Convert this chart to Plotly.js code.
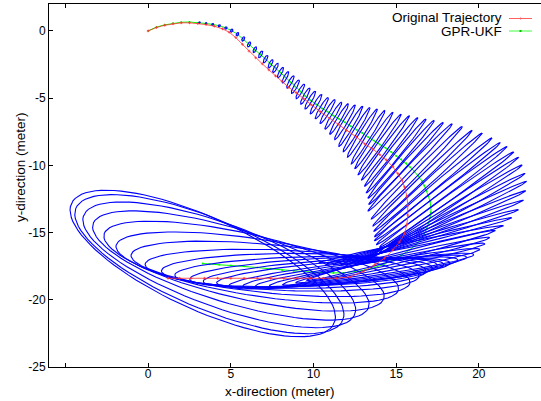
<!DOCTYPE html>
<html><head><meta charset="utf-8">
<script src="https://cdn.plot.ly/plotly-3.0.1.min.js"></script>
<style>html,body{margin:0;padding:0;background:#fff}#chart{width:541px;height:401px}</style>
</head><body><div id="chart"></div>
<script>
// Original trajectory (red)
const redX = [0,0.5,1.0,1.5,2.0,2.5,3.0,3.5,4.0,4.5,4.9,5.3,5.7,6.1,6.5,6.9,7.3,7.7,8.1,8.5,8.95,9.4,9.86,10.4,10.97,11.5,12.0,12.6,13.1,13.6,14.0,14.4,14.8,15.1,15.35,15.5,15.65,15.7,15.7,15.65,15.5,15.2,14.8,14.3,13.7,13.0,12.2,11.4,10.6,9.8,9.0,8.2,7.4,6.6,5.8,5.0,4.2,3.4,2.6,1.9,1.2];
const redY = [0,0.25,0.42,0.53,0.6,0.6,0.55,0.47,0.35,0.15,-0.1,-0.5,-1.0,-1.5,-2.0,-2.45,-2.9,-3.35,-3.75,-4.2,-4.6,-5.05,-5.5,-6.0,-6.5,-6.95,-7.4,-7.9,-8.4,-8.8,-9.2,-9.6,-10.1,-10.6,-11.1,-11.6,-12.3,-13.0,-13.7,-14.4,-15.1,-15.7,-16.3,-16.9,-17.4,-17.9,-18.3,-18.4,-18.4,-18.4,-18.4,-18.4,-18.4,-18.4,-18.4,-18.4,-18.4,-18.4,-18.4,-18.4,-18.4];
// GPR-UKF estimate (green)
const greenX = [0,0.5,1.0,1.5,2.0,2.5,
3.1,3.5,3.9,4.3,4.7,5.05,5.4,5.75,6.1,6.45,
6.8,7.1,7.4,7.7,8.0,8.3,8.6,8.9,9.2,9.5,
9.8,10.15,10.5,10.85,11.2,11.55,11.9,12.25,12.6,12.95,
13.3,13.65,14.0,14.35,14.7,15.0,15.3,15.6,15.85,16.1,
16.35,16.55,16.7,16.85,16.95,17.05,17.1,17.1,17.05,16.95,
16.85,16.7,16.5,16.2,15.8,
15.3,14.8,14.25,13.7,13.1,12.5,11.8,11.2,10.6,10.0,
9.4,8.8,8.1,7.4,6.6,5.8,5.0,4.3,3.7,3.3];
const greenY = [0,0.28,0.45,0.57,0.64,0.66,
0.62,0.55,0.48,0.38,0.22,0.02,-0.25,-0.6,-1.0,-1.4,
-1.75,-2.1,-2.45,-2.75,-3.1,-3.45,-3.8,-4.15,-4.5,-4.85,
-5.15,-5.45,-5.75,-6.0,-6.3,-6.55,-6.8,-7.1,-7.35,-7.6,
-7.9,-8.15,-8.45,-8.7,-9.0,-9.3,-9.55,-9.85,-10.15,-10.45,
-10.8,-11.15,-11.5,-11.9,-12.3,-12.7,-13.1,-13.5,-13.9,-14.3,
-14.7,-15.1,-15.5,-15.9,-16.3,
-16.7,-17.05,-17.35,-17.6,-17.8,-17.9,-18.0,-18.0,-18.0,-17.95,
-17.9,-17.85,-17.8,-17.7,-17.6,-17.5,-17.45,-17.4,-17.35,-17.3];
// uncertainty ellipses: centre (m), semi-axes (m), orientation (deg)
const ellCx = [3.1,3.5,3.9,4.3,4.7,5.05,5.4,5.75,6.1,6.45,
6.8,7.1,7.4,7.7,8.0,8.3,8.6,8.9,9.2,9.5,
9.8,10.15,10.5,10.85,11.2,11.55,11.9,12.25,12.6,12.95,
13.3,13.65,14.0,14.35,14.7,15.0,15.3,15.6,15.85,16.25,
16.6,16.93,17.25,17.5,17.75,18.05,18.19,18.09,17.96,17.77,
17.5,17.17,16.8,16.38,15.91,
15.3,14.8,14.25,13.7,13.1,12.5,11.8,11.2,10.6,10.0,
9.4,8.8,8.1,7.4,6.6,5.8,5.0,4.3,3.7,3.3];
const ellCy = [0.62,0.55,0.48,0.38,0.22,0.02,-0.25,-0.6,-1.0,-1.4,
-1.75,-2.1,-2.45,-2.75,-3.1,-3.45,-3.8,-4.15,-4.5,-4.85,
-5.15,-5.45,-5.75,-6.0,-6.3,-6.55,-6.8,-7.1,-7.35,-7.6,
-7.9,-8.15,-8.45,-8.7,-9.0,-9.3,-9.55,-9.85,-10.15,-10.55,
-10.95,-11.25,-11.63,-11.95,-12.25,-12.55,-12.95,-13.38,-13.81,-14.2,
-14.62,-15.01,-15.35,-15.63,-15.88,
-16.7,-17.05,-17.35,-17.6,-17.8,-17.9,-18.0,-18.0,-18.0,-17.95,
-17.9,-17.85,-17.8,-17.7,-17.6,-17.5,-17.45,-17.4,-17.35,-17.3];
const ellA = [.06,.07,.08,.09,.10,.12,.14,.17,.20,.23,
.27,.30,.34,.38,.42,.46,.50,.55,.60,.66,
.73,.80,.88,1.0,1.12,1.27,1.43,1.66,1.83,2.01,
2.24,2.39,2.6,2.8,3.01,3.29,3.52,3.79,4.13,4.41,
4.65,4.90,5.11,5.27,5.38,5.39,5.51,5.67,5.81,5.94,
6.0,6.04,5.97,5.88,5.76,
6.0,6.1,6.3,6.5,6.7,6.85,7.0,7.1,7.3,7.5,
7.8,8.0,8.3,8.5,8.7,8.8,8.9,9.0,9.1,9.13];
const ellB = [.045,.05,.055,.06,.065,.07,.07,.075,.08,.08,
.085,.09,.09,.095,.10,.10,.105,.11,.11,.115,
.12,.12,.125,.13,.13,.135,.14,.14,.145,.15,
.15,.155,.16,.16,.165,.17,.17,.175,.18,.18,
.185,.19,.19,.195,.2,.2,.2,.2,.2,.2,
.2,.2,.2,.2,.2,
.25,.3,.35,.42,.5,.6,.7,.8,.9,1.0,
1.1,1.3,1.5,1.8,2.1,2.4,2.7,3.0,3.2,3.28];
const ellAng = [70,70,70,70,70,70,70,69,69,69,
68,68,68,67,67,67,66,66,66,66,
65,65,64,63.5,63.5,64,64.5,64.5,64,63.4,
63,61.3,60,58.9,57.9,56.8,55.4,53.6,51.9,51.4,
49.8,48.1,45.95,43.8,42.7,41.2,40.1,36.9,33.5,30.4,
27.0,23.5,20.1,17.1,13.9,
18,16,14,12,10,9,8,6,5,4,
2,0,-3,-7,-11,-16,-21,-25,-28.5,-30.7];
const xTickVals = [-5,0,5,10,15,20];
const xTickText = ['','0','5','10','15','20'];
const yTickVals = [-25,-20,-15,-10,-5,0];
const yTickText = ['-25','-20','-15','-10','-5','0'];
const legendNames = ['Original Trajectory','GPR-UKF'];

const ex = [], ey = [];
const NP = 90;
for (let i = 0; i < ellA.length; i++) {
  const cx = ellCx[i], cy = ellCy[i];
  const th = ellAng[i] * Math.PI / 180, c = Math.cos(th), s = Math.sin(th);
  for (let k = 0; k <= NP; k++) {
    const t = 2 * Math.PI * k / NP;
    const u = ellA[i] * Math.cos(t), v = ellB[i] * Math.sin(t);
    ex.push(cx + u * c - v * s); ey.push(cy + u * s + v * c);
  }
  ex.push(null); ey.push(null);
}

const FONT = 'Liberation Sans, Arial, sans-serif';
const traces = [
  {x: greenX, y: greenY, type: 'scatter', mode: 'lines+markers', name: legendNames[1],
   line: {color: '#00ff00', width: 1}, marker: {color: '#00ff00', size: 2, symbol: 'circle'}, showlegend: false},
  {x: ex, y: ey, type: 'scatter', mode: 'lines', line: {color: '#0000ff', width: 1.1}, showlegend: false, hoverinfo: 'skip'},
  {x: redX, y: redY, type: 'scatter', mode: 'lines+markers', name: legendNames[0],
   line: {color: '#ff3030', width: 0.8}, marker: {color: '#ff3030', size: 2, symbol: 'cross-thin', line: {color: '#ff3030', width: 0.8}}, showlegend: false}
];

const PL = 49, PT = 4, PW = 492, PH = 363;
const px = v => (v - PL) / PW, py = v => (PT + PH - v) / PH;

const layout = {
  width: 541, height: 401,
  margin: {l: PL, r: 0, t: PT, b: 401 - PT - PH},
  paper_bgcolor: '#fff', plot_bgcolor: '#fff',
  showlegend: false,
  font: {family: FONT, color: '#000', size: 12},
  xaxis: {range: [-6, 23.76], showline: true, linecolor: '#000', linewidth: 1, mirror: 'ticks',
    ticks: 'inside', ticklen: 4, tickcolor: '#000', tickvals: xTickVals, ticktext: xTickText,
    ticklabelstandoff: -4,
    showgrid: false, zeroline: false, tickfont: {family: FONT, size: 12, color: '#000'}},
  yaxis: {range: [-25, 2], showline: true, linecolor: '#000', linewidth: 1, mirror: false,
    ticks: 'inside', ticklen: 4, tickcolor: '#000', tickvals: yTickVals, ticktext: yTickText,
    showgrid: false, zeroline: false, tickfont: {family: FONT, size: 12, color: '#000'}},
  annotations: [
    {text: 'x-direction (meter)', xref: 'paper', yref: 'paper', x: px(280), y: py(391), xanchor: 'center', yanchor: 'middle', showarrow: false, font: {family: FONT, size: 13.5, color: '#000'}},
    {text: 'y-direction (meter)', xref: 'paper', yref: 'paper', x: px(20), y: py(167), xanchor: 'center', yanchor: 'middle', textangle: -90, showarrow: false, font: {family: FONT, size: 13.5, color: '#000'}},
    {text: legendNames[0], xref: 'paper', yref: 'paper', x: px(504), y: py(17), xanchor: 'right', yanchor: 'middle', showarrow: false, font: {family: FONT, size: 13.5, color: '#000'}},
    {text: legendNames[1], xref: 'paper', yref: 'paper', x: px(504), y: py(31.5), xanchor: 'right', yanchor: 'middle', showarrow: false, font: {family: FONT, size: 13.5, color: '#000'}}
  ],
  shapes: [
    {type: 'line', xref: 'paper', yref: 'paper', x0: px(509), x1: px(532), y0: py(18.5), y1: py(18.5), line: {color: '#ff6060', width: 1}},
    {type: 'line', xref: 'paper', yref: 'paper', x0: px(520.5), x1: px(520.5), y0: py(17.5), y1: py(19.5), line: {color: '#ff6060', width: 1}},
    {type: 'line', xref: 'paper', yref: 'paper', x0: px(509), x1: px(532), y0: py(31), y1: py(31), line: {color: '#40ff40', width: 1}},
    {type: 'line', xref: 'paper', yref: 'paper', x0: px(519.5), x1: px(521.5), y0: py(31), y1: py(31), line: {color: '#00c000', width: 2}}
  ]
};
Plotly.newPlot('chart', traces, layout, {staticPlot: true, displayModeBar: false});
</script>
</body></html>
